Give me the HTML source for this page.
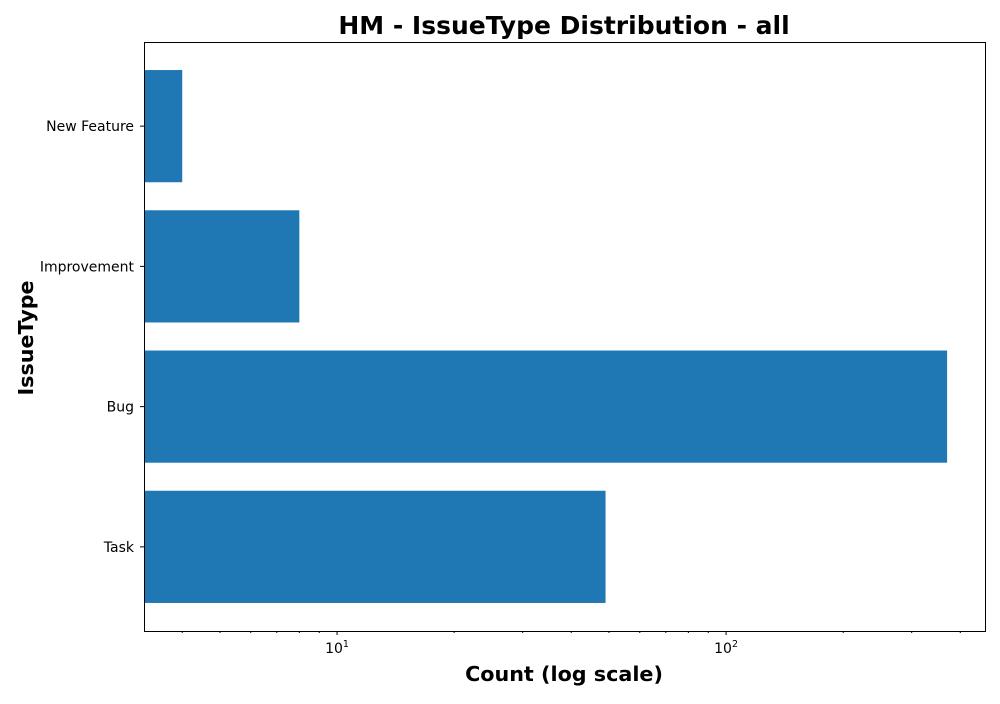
<!DOCTYPE html>
<html><head><meta charset="utf-8"><style>
body{margin:0;background:#fff;font-family:"DejaVu Sans","Liberation Sans",sans-serif;}
</style></head><body>
<svg id="chart" width="1000" height="700" xmlns="http://www.w3.org/2000/svg" font-family="DejaVu Sans, Liberation Sans, sans-serif">
<text x="564" y="34" text-anchor="middle" font-size="25" font-weight="bold">HM - IssueType Distribution - all</text>
<text x="564" y="681" text-anchor="middle" font-size="20.7" font-weight="bold">Count (log scale)</text>
<text transform="translate(33,338) rotate(-90)" text-anchor="middle" font-size="20.7" font-weight="bold">IssueType</text>
<g id="bars"></g><g id="ticks"></g>
<rect x="144.5" y="42.5" width="841" height="589" fill="none" stroke="#000" stroke-width="1"/>
</svg>
<script>
const categories=["Task","Bug","Improvement","New Feature"];
const counts=[49,370,8,4];
const majorTicks=[10,100];
const L=144,R=985,T=42,B=631,xmin=3.19,xmax=463;
const ns="http://www.w3.org/2000/svg";
function x(v){return L+(Math.log10(v)-Math.log10(xmin))/(Math.log10(xmax)-Math.log10(xmin))*(R-L);}
const n=categories.length;
function yc(i){return B-(0.6+i)*((B-T)/(n+0.2));}
const bw=0.8*((B-T)/(n+0.2));
function mk(t,a,p){const e=document.createElementNS(ns,t);for(const k in a)e.setAttribute(k,a[k]);p.appendChild(e);return e;}
const bg=document.getElementById('bars'),tg=document.getElementById('ticks');
categories.forEach((c,i)=>{
 const r=mk('rect',{x:L,y:yc(i)-bw/2,width:x(counts[i])-L,height:bw,fill:'#1f77b4'},bg);
 
 
 mk('line',{x1:L-4,x2:L,y1:yc(i),y2:yc(i),stroke:'#000'},tg);
 const t=mk('text',{x:L-10,y:yc(i)+5,'text-anchor':'end','font-size':14},tg);
 t.textContent=c;
 
 
});
for(let d=1;d<=100;d*=10)for(let k=1;k<10;k++){const v=d*k;if(v<xmin||v>xmax)continue;
 const maj=k===1;mk('line',{x1:x(v),x2:x(v),y1:B,y2:B+(maj?4:2),stroke:'#000'},tg);}
majorTicks.forEach(v=>{
 const t=mk('text',{x:x(v),y:B+22,'text-anchor':'middle','font-size':14},tg);
 
 
 t.innerHTML='10<tspan dy="-6" font-size="9.5">'+Math.log10(v)+'</tspan>';
});
</script>
</body></html>
